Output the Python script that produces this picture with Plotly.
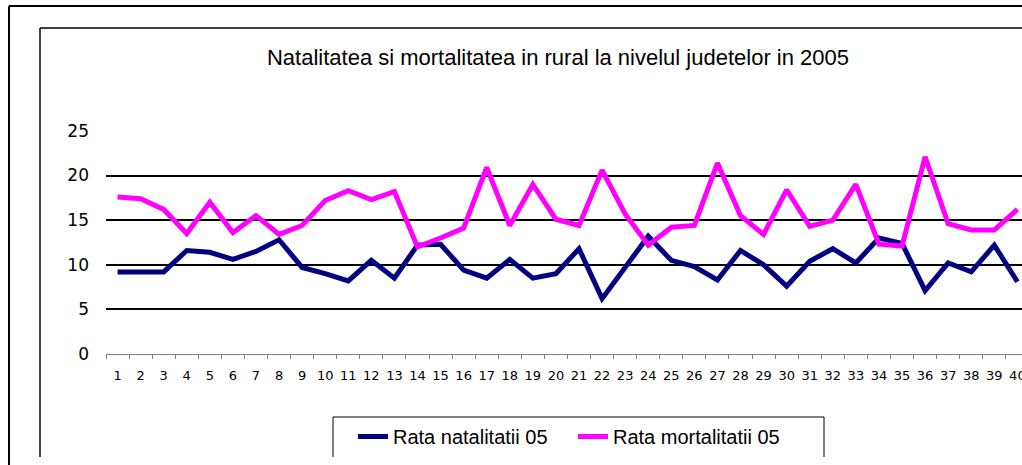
import plotly.graph_objects as go

categories = [str(i) for i in range(1, 41)]
natalitate = [9.2, 9.2, 9.2, 11.6, 11.4, 10.6, 11.5, 12.8, 9.7, 9.0,
              8.2, 10.5, 8.5, 12.2, 12.3, 9.4, 8.5, 10.6, 8.5, 9.0,
              11.8, 6.2, 9.7, 13.2, 10.5, 9.8, 8.3, 11.6, 10.0, 7.6,
              10.4, 11.8, 10.2, 13.0, 12.4, 7.1, 10.2, 9.2, 12.2, 8.1]
mortalitate = [17.6, 17.4, 16.2, 13.5, 17.0, 13.6, 15.5, 13.4, 14.4, 17.2,
               18.3, 17.3, 18.2, 12.0, 13.0, 14.1, 20.9, 14.4, 19.0, 15.1,
               14.4, 20.6, 15.7, 12.2, 14.2, 14.4, 21.4, 15.5, 13.4, 18.4,
               14.3, 15.0, 19.0, 12.3, 12.1, 22.1, 14.6, 13.9, 13.9, 16.2]
yticks = [0, 5, 10, 15, 20, 25]

W, H = 1022, 465
ML, MR, MT, MB = 106, 0, 130, 111
PW, PH = W - ML - MR, H - MT - MB


def px(x):
    return (x - ML) / PW


def py(y):
    return (H - MB - y) / PH


fig = go.Figure()
fig.add_trace(go.Scatter(x=categories, y=natalitate, mode="lines",
                         name="Rata natalitatii 05",
                         line=dict(color="#000080", width=5)))
fig.add_trace(go.Scatter(x=categories, y=mortalitate, mode="lines",
                         name="Rata mortalitatii 05",
                         line=dict(color="#FF00FF", width=5)))

line_black = dict(color="black", width=2)
shapes = [
    # outer frame
    dict(type="line", xref="paper", yref="paper", x0=px(9), x1=px(1030), y0=py(6), y1=py(6), line=line_black),
    dict(type="line", xref="paper", yref="paper", x0=px(9), x1=px(9), y0=py(6), y1=py(470), line=line_black),
    # inner frame
    dict(type="line", xref="paper", yref="paper", x0=px(40), x1=px(1030), y0=py(28), y1=py(28), line=dict(color="black", width=1.5)),
    dict(type="line", xref="paper", yref="paper", x0=px(40), x1=px(40), y0=py(28), y1=py(457), line=dict(color="black", width=1.5)),
    # legend box
    dict(type="line", xref="paper", yref="paper", x0=px(333), x1=px(824), y0=py(417), y1=py(417), line=dict(color="black", width=1)),
    dict(type="line", xref="paper", yref="paper", x0=px(333), x1=px(333), y0=py(417), y1=py(457), line=dict(color="black", width=1)),
    dict(type="line", xref="paper", yref="paper", x0=px(824), x1=px(824), y0=py(417), y1=py(457), line=dict(color="black", width=1)),
]

fig.update_layout(
    width=W, height=H, autosize=False,
    margin=dict(l=ML, r=MR, t=MT, b=MB, pad=0),
    paper_bgcolor="white", plot_bgcolor="white",
    title=dict(text="Natalitatea si mortalitatea in rural la nivelul judetelor in 2005",
               x=558 / W, xanchor="center", xref="container",
               y=1 - 57 / H, yanchor="middle", yref="container",
               font=dict(family="Liberation Sans, Arial", size=22, color="black")),
    xaxis=dict(type="category", range=[-0.5, 39.2], showgrid=False, zeroline=False,
               automargin=False,
               showline=True, linecolor="#808080", linewidth=1,
               ticks="outside", ticklen=4, tickcolor="#808080", tickson="boundaries",
               ticklabelstandoff=9, tickangle=0,
               tickfont=dict(family="DejaVu Sans", size=13, color="black")),
    yaxis=dict(range=[0, 25.1], tickvals=yticks, showgrid=True, gridcolor="black",
               gridwidth=2, zeroline=False, showline=False, ticks="",
               automargin=False,
               ticklabelstandoff=16,
               tickfont=dict(family="DejaVu Sans", size=17, color="black")),
    legend=dict(orientation="h", x=px(353), xanchor="left", y=py(417), yanchor="top",
                entrywidth=175, entrywidthmode="pixels",
                font=dict(family="Liberation Sans, Arial", size=20, color="black"),
                bgcolor="rgba(0,0,0,0)", borderwidth=0),
    shapes=shapes,
)

fig.write_html("out.html", config={"displayModeBar": False, "responsive": False},
               post_script="document.body.style.margin='0';document.body.style.overflow='hidden';")
